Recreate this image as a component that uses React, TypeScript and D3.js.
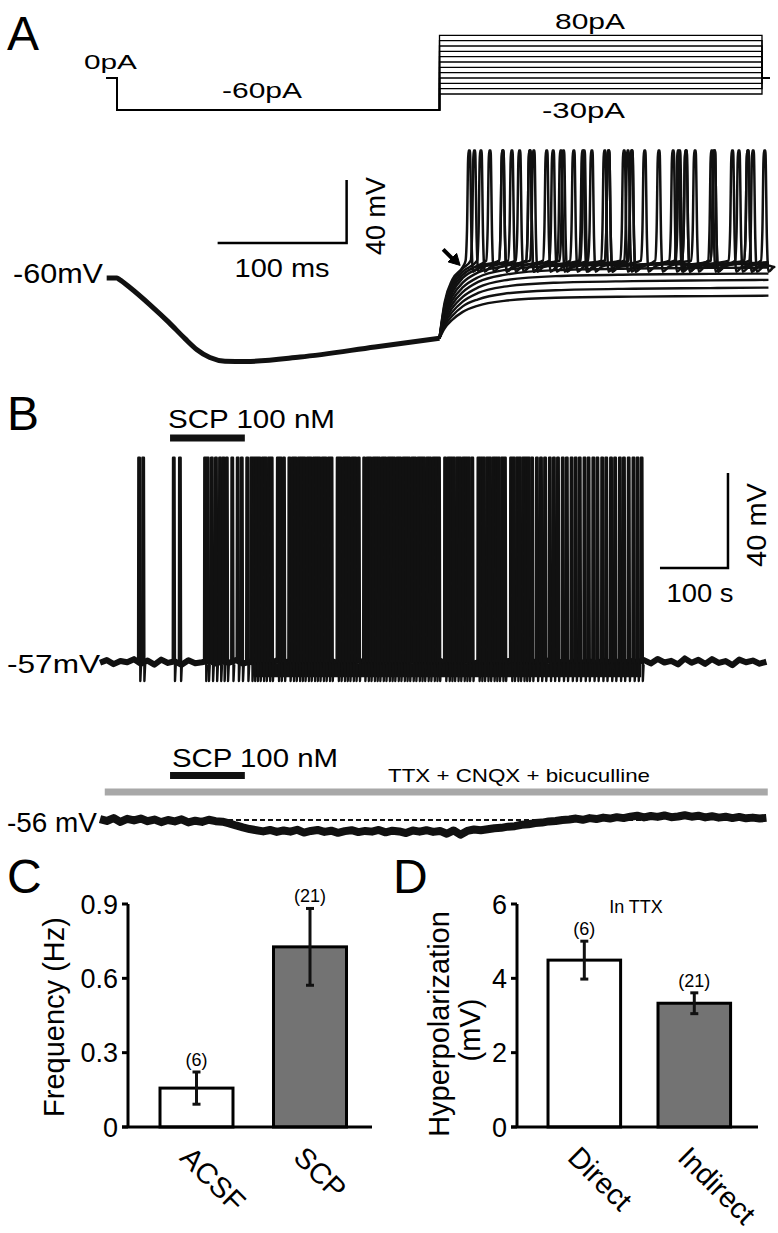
import React from "react";
import * as d3 from "d3";

const FONT = "'Liberation Sans', Arial, Helvetica, sans-serif";

// ---------- Panel A: current protocol (pA) ----------
const stepLevels = [-30, -20, -10, 0, 10, 20, 30, 40, 50, 60, 70, 80];
const protocolTimes = [-8, 0, 250, 500, 506]; // ms
const holdCurrent = 0;
const hyperCurrent = -60;

// shared hyperpolarising response [ms, mV]
const hyperResponse: [number, number][] = [
  [-8, -60], [0, -60], [2, -61], [10, -66], [25.6, -77], [40, -88], [52.7, -98.5],
  [62, -105.5], [72, -110.5], [83.7, -112.8], [100, -113], [141.9, -110.2], [200, -103.8], [250, -98.2],
];

// responses to the depolarising steps
const riseTimes = [250, 254, 260, 268, 280, 300, 340, 400, 460, 505];
const quietTraces = [
  [-98.2, -92, -86.5, -81.5, -77.5, -74.5, -72.5, -71.8, -71.5, -71.2],
  [-98.2, -90.5, -84, -78, -73.5, -70, -67.8, -66.8, -66.4, -66.1],
  [-98.2, -89, -81.5, -75, -69.5, -65.5, -63, -62, -61.5, -61.2],
  [-98.2, -87.5, -79, -72, -66, -61.5, -58.8, -57.8, -57.4, -57.2],
  [-98.2, -86, -76.5, -69, -62.5, -58, -55, -54, -53.6, -53.4],
  [-98.2, -84.5, -74, -66, -59.5, -55, -52.3, -51.5, -51.2, -51.0],
];
const firingRise = [
  [-98.2, -83, -71.5, -63, -56.5, -52.5],
  [-98.2, -81.5, -69, -60, -54, -51],
  [-98.2, -80, -67, -58, -52],
  [-98.2, -78.5, -65, -56, -51],
  [-98.2, -77, -63, -54],
  [-98.2, -75.5, -61, -53],
];
const firingSpikes = [
  [319, 380, 447],
  [298, 345, 392, 440, 488],
  [288, 322, 360, 395, 435, 476],
  [281, 311, 337, 367, 398, 430, 462, 492],
  [276, 305, 332, 353, 377, 408, 434, 462, 488],
  [272, 298, 319, 343, 361, 380, 398, 419, 440, 460, 481, 501],
];
const firingEnd = [-50, -50, -51, -51, -52, -52];
const spikeShapeA: [number, number][] = [
  [-1.8, -49], [-0.7, -30], [0.4, 21], [1.6, 21], [2.8, -35], [4, -56], [8.5, -53],
];
const scaleBarA = { t: 78, v: -37.8, dt: 100, dv: 40 };
const arrowTipA: [number, number] = [266, -52];

// ---------- Panel B ----------
const traceStart = -4; // s, first sample of the recordings
const sampleStep = 10; // s
const restB1 = -57;
const baselineB1 = [
  -57.3, -56.2, -57.9, -56.6, -57.1, -55.8, -57.7, -56.4, -58.1, -56.0, -57.4, -56.7, -58.2, -56.3, -57.5,
  -57.1, -56.5, -57.6, -56.8, -57.3, -56.2, -57.7, -56.9, -57.4, -56.6, -57.8, -56.3, -57.2, -56.7, -57.5,
  -56.4, -57.9, -56.8, -57.1, -56.5, -57.6, -56.9, -57.3, -56.2, -57.8, -56.6, -57.0, -56.4, -57.5, -56.8,
  -57.2, -56.3, -57.7, -56.9, -57.4, -56.5, -57.9, -56.7, -57.1, -56.2, -57.6, -56.8, -57.3, -56.5, -57.8,
  -56.6, -57.0, -56.4, -57.5, -56.9, -57.2, -56.3, -57.7, -56.8, -57.4, -56.6, -57.3, -56.7, -57.5, -56.4,
  -57.2, -56.8, -57.6, -56.5, -57.1,
  -56.2, -57.6, -55.7, -57.2, -56.5, -58.0, -55.5, -57.3, -56.1, -57.8, -55.8, -57.4, -56.6, -58.3, -56.0,
  -57.1, -56.4, -57.7, -56.9,
];
const spikesB1 = [
  53, 59, 104, 113,
  150, 154, 160, 166, 172, 177, 182, 190, 198, 204, 212, 218,
  222, 226, 230, 235, 239, 244, 248, 257, 261, 266, 274, 279, 283, 288, 292, 296, 301, 305, 310, 314,
  318, 323, 327, 332, 336, 345, 349, 354, 358, 362, 367, 371, 376, 384, 389, 393, 398, 402, 406, 411,
  415, 420, 424, 428, 433, 437, 442, 446, 450, 455, 459, 464, 468, 472, 477, 481, 486, 490, 494, 503,
  508, 512, 516, 521, 525, 530, 534, 538, 543, 552, 556, 560, 565, 569, 574, 578, 582, 587, 591, 600,
  604, 609, 613, 618, 622, 626, 631,
  638, 644, 650, 657, 663, 669, 676, 682, 689, 695, 701, 708, 714, 721, 727, 734, 740, 747, 753, 760,
  766, 773, 780, 786, 792,
];
const spikeShapeB: [number, number][] = [[-1.0, -57], [-0.6, 29], [1.6, 29], [2.3, -65], [3.4, -58]];
const scaleBarB = { t: 819.5, v: -17.4, dt: 100, dv: 40 };

const restB2 = -56;
const baselineB2 = [
  -55.6, -56.4, -55.2, -56.8, -55.5, -56.2, -55.4, -56.5, -55.8, -56.9, -56.0, -56.6, -55.7, -57.0, -56.3,
  -56.8, -55.9, -56.5, -56.7,
  -57.4, -58.3, -59.1, -59.8, -60.3,
  -60.8, -60.2, -61.0, -60.4, -60.9, -60.1, -61.3, -60.6, -60.2, -61.0, -60.5, -61.4, -60.7, -60.3, -61.1,
  -60.6, -60.9, -60.2, -61.2, -60.5, -60.8, -61.5, -60.4, -60.9, -60.3, -61.0, -60.6,
  -61.8, -60.4, -62.2, -60.6, -60.0, -60.3,
  -59.9, -59.5, -59.3, -58.8, -58.6, -58.0, -57.8, -57.3, -57.1, -56.6, -56.4, -56.0, -55.8,
  -55.4, -55.9, -55.2, -55.6, -55.0, -55.4, -54.8, -55.2, -54.6, -54.2, -54.9, -54.3, -54.7, -54.1, -54.8,
  -54.5, -54.0, -54.6, -54.2, -54.9, -54.4, -55.0, -54.6, -55.2, -54.7, -55.3, -55.0, -55.4, -55.1,
];
const scpWindow = [99, 209];
const drugWindow = [3, 978];
const dashWindow = [-4, 801];

// ---------- Panels C and D ----------
const freqGroups = ["ACSF", "SCP"];
const freqMeans = [0.157, 0.727];
const freqErrors = [0.065, 0.155];
const freqN = ["(6)", "(21)"];
const freqTicks = [0, 0.3, 0.6, 0.9];

const hypGroups = ["Direct", "Indirect"];
const hypMeans = [4.49, 3.33];
const hypErrors = [0.51, 0.28];
const hypN = ["(6)", "(21)"];
const hypTicks = [0, 2, 4, 6];

const barFills = ["#ffffff", "#737373"];

// ---------- scales ----------
const xA = d3.scaleLinear().domain([0, 500]).range([117, 762]);
const yV = d3.scaleLinear().domain([-60, -20]).range([278, 215]);
const yI = d3.scaleLinear().domain([0, -60]).range([78, 110]);

const xB = d3.scaleLinear().domain([-4, 976]).range([100, 766.4]);
const yB1 = d3.scaleLinear().domain([-57, -17]).range([662, 567]);
const yB2 = d3.scaleLinear().domain([-56, -16]).range([820, 725]);

const yC = d3.scaleLinear().domain([0, 0.9]).range([1127, 904]);
const xC = d3.scaleBand().domain(freqGroups).range([128, 378.5]).paddingInner(0.357).paddingOuter(0.282);
const yD = d3.scaleLinear().domain([0, 6]).range([1127, 904]);
const xD = d3.scaleBand().domain(hypGroups).range([517, 761.6]).paddingInner(0.34).paddingOuter(0.282);

const lineA = d3.line<[number, number]>().x((d) => xA(d[0])).y((d) => yV(d[1])).curve(d3.curveMonotoneX);
const lineI = d3.line<[number, number]>().x((d) => xA(d[0])).y((d) => yI(d[1]));
const lineB1 = d3.line<[number, number]>().x((d) => xB(d[0])).y((d) => yB1(d[1]));
const lineB2 = d3.line<[number, number]>().x((d) => xB(d[0])).y((d) => yB2(d[1]));

function quietPoints(vals: number[]): [number, number][] {
  return vals.map((v, i) => [riseTimes[i], v]);
}

function firingPoints(k: number): [number, number][] {
  const spikes = firingSpikes[k];
  const pts: [number, number][] = [];
  firingRise[k].forEach((v, i) => {
    if (riseTimes[i] < spikes[0] + spikeShapeA[0][0]) pts.push([riseTimes[i], v]);
  });
  spikes.forEach((s) => spikeShapeA.forEach(([dt, v]) => pts.push([s + dt, v])));
  pts.push([505, firingEnd[k]]);
  return pts;
}

function protocolPoints(level: number): [number, number][] {
  const [t0, t1, t2, t3, t4] = protocolTimes;
  return [
    [t0, holdCurrent], [t1, holdCurrent], [t1, hyperCurrent], [t2, hyperCurrent],
    [t2, level], [t3, level], [t3, holdCurrent], [t4, holdCurrent],
  ];
}

const T = ({ x, y, size, len, anchor = "start", rotate = 0, children }: any) => (
  <text
    x={x}
    y={y}
    fontSize={size}
    textLength={len}
    lengthAdjust={len ? "spacingAndGlyphs" : undefined}
    textAnchor={anchor}
    transform={rotate ? `rotate(${rotate} ${x} ${y})` : undefined}
  >
    {children}
  </text>
);

function BarPanel({ groups, means, errors, ns, ticks, y, x, axisX, axisEnd, fmt }: any) {
  const bw = x.bandwidth();
  return (
    <g>
      {groups.map((g: string, i: number) => {
        const cx = x(g) + bw / 2;
        return (
          <g key={g}>
            <rect x={x(g)} y={y(means[i])} width={bw} height={y(0) - y(means[i])} fill={barFills[i]} stroke="#000" strokeWidth={3} />
            <line x1={cx} x2={cx} y1={y(means[i] + errors[i])} y2={y(means[i] - errors[i])} stroke="#111" strokeWidth={3} />
            <line x1={cx - 4} x2={cx + 4} y1={y(means[i] + errors[i])} y2={y(means[i] + errors[i])} stroke="#111" strokeWidth={3} />
            <line x1={cx - 4} x2={cx + 4} y1={y(means[i] - errors[i])} y2={y(means[i] - errors[i])} stroke="#111" strokeWidth={3} />
            <T x={cx} y={y(means[i] + errors[i]) - 6} size={18} anchor="middle">{ns[i]}</T>
            <T x={cx - 18} y={1159} size={29} rotate={45}>{g}</T>
          </g>
        );
      })}
      <line x1={axisX} x2={axisX} y1={y(ticks[ticks.length - 1])} y2={y(0)} stroke="#000" strokeWidth={3} />
      <line x1={axisX - 6} x2={axisEnd} y1={y(0)} y2={y(0)} stroke="#000" strokeWidth={3} />
      {ticks.map((t: number) => (
        <g key={t}>
          <line x1={axisX - 6} x2={axisX} y1={y(t)} y2={y(t)} stroke="#000" strokeWidth={3} />
          <T x={axisX - 10} y={y(t) + 9.5} size={27} anchor="end">{fmt(t)}</T>
        </g>
      ))}
    </g>
  );
}

export default function App() {
  // panel B traces
  const b1Base: [number, number][] = baselineB1.map((v, i) => [traceStart + i * sampleStep, v]);
  const b2Base: [number, number][] = baselineB2.map((v, i) => [traceStart + i * sampleStep, v]);

  const [tipT, tipV] = arrowTipA;
  const tipX = xA(tipT);
  const tipY = yV(tipV);

  return (
    <svg
      width={778}
      height={1233}
      style={{ position: "absolute", left: 0, top: 0, background: "#fff" }}
      fontFamily={FONT}
      fill="#000"
    >
      <rect width={778} height={1233} fill="#fff" />
      {/* panel letters */}
      <T x={7} y={50} size={48}>A</T>
      <T x={7} y={430} size={48}>B</T>
      <T x={7} y={893} size={48}>C</T>
      <T x={393} y={893} size={48}>D</T>

      {/* ---- Panel A protocol ---- */}
      <g fill="none" stroke="#000" strokeWidth={1.3}>
        {stepLevels.map((L) => (
          <path key={L} d={lineI(protocolPoints(L)) || ""} />
        ))}
      </g>
      <T x={84} y={69} size={21} len={53}>0pA</T>
      <T x={222} y={98} size={22} len={80}>-60pA</T>
      <T x={555} y={29} size={22} len={70}>80pA</T>
      <T x={542} y={118} size={22} len={83}>-30pA</T>

      {/* ---- Panel A voltage ---- */}
      <g fill="none" stroke="#111" strokeLinejoin="round">
        <path d={lineA(hyperResponse) || ""} strokeWidth={5} />
        {quietTraces.map((vals, k) => (
          <path key={"q" + k} d={lineA(quietPoints(vals)) || ""} strokeWidth={2.4} />
        ))}
        {firingSpikes.map((_, k) => (
          <path key={"f" + k} d={lineA(firingPoints(k)) || ""} strokeWidth={2.5} />
        ))}
      </g>
      {/* scale bar A */}
      <path
        d={`M${xA(scaleBarA.t)},${yV(scaleBarA.v)}H${xA(scaleBarA.t + scaleBarA.dt)}V${yV(scaleBarA.v + scaleBarA.dv)}`}
        fill="none"
        stroke="#000"
        strokeWidth={2.5}
      />
      <T x={(xA(scaleBarA.t) + xA(scaleBarA.t + scaleBarA.dt)) / 2} y={277} size={25} len={95} anchor="middle">100 ms</T>
      <T x={385} y={216} size={27} len={78} anchor="middle" rotate={-90}>40 mV</T>
      <T x={13} y={283} size={28} len={90}>-60mV</T>
      {/* arrow */}
      <g stroke="#000" fill="#000">
        <line x1={tipX - 17} y1={tipY - 16} x2={tipX - 6} y2={tipY - 5} strokeWidth={4} />
        <path d={`M${tipX},${tipY}L${tipX - 12},${tipY - 3.5}L${tipX - 3.5},${tipY - 12}Z`} strokeWidth={1} />
      </g>

      {/* ---- Panel B top trace ---- */}
      <T x={168} y={428} size={25} len={167}>SCP 100 nM</T>
      <line x1={xB(scpWindow[0])} x2={xB(scpWindow[1])} y1={438} y2={438} stroke="#111" strokeWidth={7} />
      <path d={lineB1(b1Base) || ""} fill="none" stroke="#111" strokeWidth={6} strokeLinejoin="round" />
      <line x1={xB(spikesB1[16])} x2={xB(spikesB1[spikesB1.length - 1])} y1={yB1(restB1 - 3.5)} y2={yB1(restB1 - 3.5)} stroke="#111" strokeWidth={14} />
      <g fill="#111" stroke="#111" strokeWidth={2.4} strokeLinejoin="round">
        {spikesB1.map((s, i) => (
          <path key={i} d={lineB1(spikeShapeB.map(([dt, v]) => [s + dt, v] as [number, number])) || ""} />
        ))}
      </g>
      <path
        d={`M${xB(scaleBarB.t)},${yB1(scaleBarB.v)}H${xB(scaleBarB.t + scaleBarB.dt)}V${yB1(scaleBarB.v + scaleBarB.dv)}`}
        fill="none"
        stroke="#000"
        strokeWidth={2.5}
      />
      <T x={(xB(scaleBarB.t) + xB(scaleBarB.t + scaleBarB.dt)) / 2 + 6} y={602} size={26} len={67} anchor="middle">100 s</T>
      <T x={766} y={525} size={27} len={84} anchor="middle" rotate={-90}>40 mV</T>
      <T x={7} y={673} size={26} len={93}>-57mV</T>

      {/* ---- Panel B bottom trace ---- */}
      <T x={172} y={767} size={25} len={166}>SCP 100 nM</T>
      <line x1={xB(scpWindow[0])} x2={xB(scpWindow[1])} y1={775.5} y2={775.5} stroke="#111" strokeWidth={7} />
      <T x={388} y={782} size={19} len={262}>TTX + CNQX + bicuculline</T>
      <line x1={xB(drugWindow[0])} x2={xB(drugWindow[1])} y1={792} y2={792} stroke="#a8a8a8" strokeWidth={7} />
      <path d={lineB2(b2Base) || ""} fill="none" stroke="#111" strokeWidth={8} strokeLinejoin="round" />
      <line
        x1={xB(dashWindow[0])}
        x2={xB(dashWindow[1])}
        y1={yB2(restB2)}
        y2={yB2(restB2)}
        stroke="#111"
        strokeWidth={1.8}
        strokeDasharray="5,3"
      />
      <T x={7} y={832} size={27} len={90}>-56 mV</T>

      {/* ---- Panel C ---- */}
      <BarPanel
        groups={freqGroups}
        means={freqMeans}
        errors={freqErrors}
        ns={freqN}
        ticks={freqTicks}
        y={yC}
        x={xC}
        axisX={128}
        axisEnd={372}
        fmt={(t: number) => (t === 0 ? "0" : d3.format(".1f")(t))}
      />
      <T x={64} y={1017} size={29} anchor="middle" rotate={-90}>Frequency (Hz)</T>

      {/* ---- Panel D ---- */}
      <BarPanel
        groups={hypGroups}
        means={hypMeans}
        errors={hypErrors}
        ns={hypN}
        ticks={hypTicks}
        y={yD}
        x={xD}
        axisX={517}
        axisEnd={758}
        fmt={(t: number) => d3.format("d")(t)}
      />
      <T x={636} y={913} size={18} anchor="middle">In TTX</T>
      <T x={449} y={1024} size={29} anchor="middle" rotate={-90}>Hyperpolarization</T>
      <T x={480} y={1030} size={29} anchor="middle" rotate={-90}>(mV)</T>
    </svg>
  );
}
